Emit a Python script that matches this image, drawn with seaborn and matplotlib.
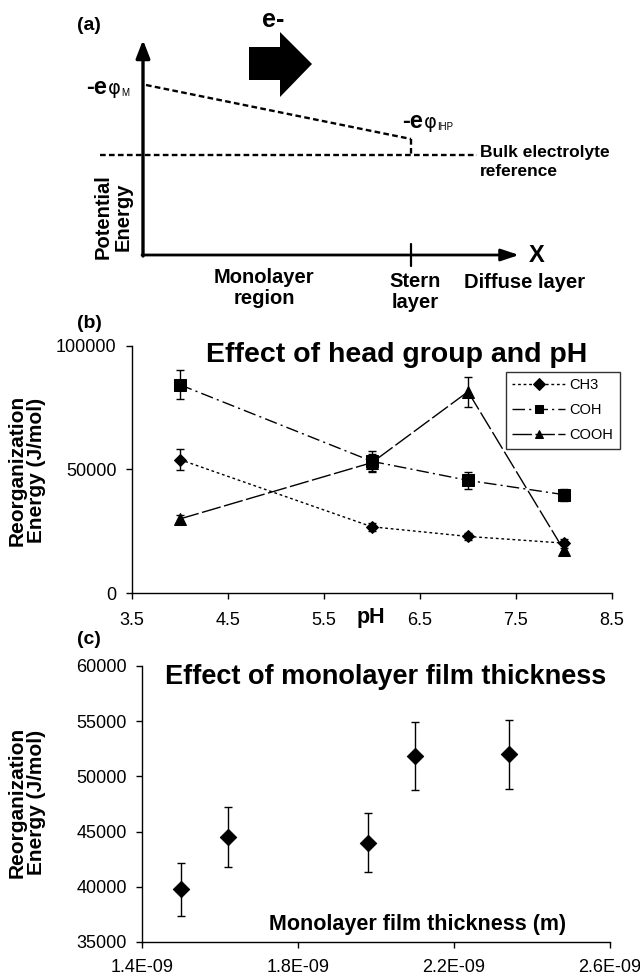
import matplotlib
matplotlib.use("Agg")
import matplotlib.pyplot as plt
import seaborn as sns
import pandas as pd
import numpy as np

# ---------------- data ----------------
ph = [4, 6, 7, 8]
ch3 = [54000, 26800, 22900, 20200]
ch3_err = [4200, 1500, 1500, 1800]
coh = [84300, 53300, 45600, 39800]
coh_err = [5800, 4300, 3300, 2500]
cooh = [30000, 52800, 81500, 17300]
cooh_err = [1500, 3500, 6000, 2000]
series_names = ["CH3", "COH", "COOH"]

thickness = [1.50e-9, 1.62e-9, 1.98e-9, 2.10e-9, 2.34e-9]
energy = [39800, 44500, 44000, 51850, 52000]
energy_err = [2400, 2700, 2650, 3100, 3100]

ph_ticks = [3.5, 4.5, 5.5, 6.5, 7.5, 8.5]
b_yticks = [0, 50000, 100000]
c_xticks = [1.4e-9, 1.8e-9, 2.2e-9, 2.6e-9]
c_xticklabels = ["1.4E-09", "1.8E-09", "2.2E-09", "2.6E-09"]
c_yticks = [35000, 40000, 45000, 50000, 55000, 60000]

sns.set_theme(style="ticks")
plt.rcParams["font.family"] = ["Liberation Sans", "DejaVu Sans"]
for k in ["text.color", "axes.labelcolor", "axes.edgecolor",
          "xtick.color", "ytick.color"]:
    plt.rcParams[k] = "black"

W, H = 640, 975
fig = plt.figure(figsize=(W / 100, H / 100), dpi=100)
fig.patch.set_facecolor("white")
renderer = fig.canvas.get_renderer()

# ---------------- panel (a): schematic ----------------
ax_a = fig.add_axes([0, 1 - 330 / H, 1, 330 / H])
ax_a.set_xlim(0, 640)
ax_a.set_ylim(330, 0)
ax_a.axis("off")

fa = dict(fontweight="bold", color="black")
ax_a.text(77, 25, "(a)", fontsize=14, ha="left", va="center", **fa)
ax_a.text(273, 20, "e-", fontsize=18, ha="center", va="center", **fa)
ax_a.fill([249, 280, 280, 312, 280, 280, 249], [47, 47, 32, 64, 97, 80, 80],
          color="black", lw=0)
ax_a.annotate("", xy=(143, 40), xytext=(143, 256),
              arrowprops=dict(arrowstyle="-|>,head_length=0.9,head_width=0.35",
                              lw=2.4, color="black", shrinkA=0, shrinkB=0))
ax_a.annotate("", xy=(519, 255), xytext=(142, 255),
              arrowprops=dict(arrowstyle="-|>,head_length=0.9,head_width=0.3",
                              lw=2.0, color="black", shrinkA=0, shrinkB=0))
ax_a.plot([411, 411], [244, 266], color="black", lw=1.6)
dash = (0, (2.4, 1.4))
ax_a.plot([146, 411], [85, 139], color="black", lw=1.7, linestyle=dash)
ax_a.plot([411, 411], [139, 155], color="black", lw=1.7, linestyle=dash)
ax_a.plot([100, 477], [155, 155], color="black", lw=1.7, linestyle=dash)


def phi_label(x, y, sub):
    """Draw '-e' (bold) + 'φ' + small subscript, starting at x (pixel coords)."""
    inv = ax_a.transData.inverted()
    t1 = ax_a.text(x, y, "-e", fontsize=17, fontweight="bold",
                   ha="left", va="center")
    bb = t1.get_window_extent(renderer)
    x1 = inv.transform((bb.x1, bb.y0))[0]
    t2 = ax_a.text(x1 + 1, y + 1, "φ", fontsize=14, family="DejaVu Sans",
                   ha="left", va="center")
    bb2 = t2.get_window_extent(renderer)
    x2 = inv.transform((bb2.x1, bb2.y0))[0]
    ax_a.text(x2 + 0.5, y + 5, sub, fontsize=7, ha="left", va="center")


phi_label(86, 88, "M")
phi_label(402, 122, "IHP")
ax_a.text(480, 153, "Bulk electrolyte", fontsize=12.5, ha="left", va="center", **fa)
ax_a.text(480, 172, "reference", fontsize=12.5, ha="left", va="center", **fa)
ax_a.text(529, 255, "X", fontsize=17, ha="left", va="center", **fa)
ax_a.text(113, 217, "Potential\nEnergy", fontsize=14.5, rotation=90,
          ha="center", va="center", linespacing=1.05, **fa)
ax_a.text(264, 288, "Monolayer\nregion", fontsize=14.5, ha="center",
          va="center", linespacing=1.1, **fa)
ax_a.text(415, 292, "Stern\nlayer", fontsize=14.5, ha="center",
          va="center", linespacing=1.1, **fa)
ax_a.text(525, 282, "Diffuse layer", fontsize=14.5, ha="center",
          va="center", **fa)

fig.text(77 / W, 1 - 324 / H, "(b)", fontsize=14, ha="left", va="center", **fa)
fig.text(77 / W, 1 - 639 / H, "(c)", fontsize=14, ha="left", va="center", **fa)

# ---------------- panel (b) ----------------
bl, br, bt, bb_ = 132, 612, 346, 593
ax_b = fig.add_axes([bl / W, 1 - bb_ / H, (br - bl) / W, (bb_ - bt) / H])
df_b = pd.DataFrame({"pH": ph * 3,
                     "E": ch3 + coh + cooh,
                     "grp": sum([[n] * len(ph) for n in series_names], [])})
styles = {
    "CH3": dict(ls=(0, (2, 2)), marker="D", ms=6),
    "COH": dict(ls=(0, (9, 3, 1.5, 3)), marker="s", ms=8),
    "COOH": dict(ls=(0, (14, 2.5)), marker="^", ms=8),
}
errs = {"CH3": ch3_err, "COH": coh_err, "COOH": cooh_err}
for name in series_names:
    sub = df_b[df_b["grp"] == name]
    st = styles[name]
    sns.lineplot(data=sub, x="pH", y="E", ax=ax_b, color="black", lw=1.0,
                 linestyle=st["ls"], marker=st["marker"], markersize=st["ms"],
                 markeredgecolor="black", markerfacecolor="black",
                 label=name, errorbar=None, sort=False)
    ax_b.errorbar(sub["pH"], sub["E"], yerr=errs[name], fmt="none",
                  ecolor="black", elinewidth=1.0, capsize=3, capthick=1.0)

ax_b.set_xlim(3.5, 8.5)
ax_b.set_ylim(0, 100000)
ax_b.set_xticks(ph_ticks)
ax_b.set_xticklabels([f"{t:.1f}" for t in ph_ticks])
ax_b.set_yticks(b_yticks)
ax_b.set_yticklabels([str(t) for t in b_yticks])
sns.despine(ax=ax_b)
ax_b.tick_params(axis="both", direction="out", length=4, width=1,
                 labelsize=13)
ax_b.tick_params(axis="x", pad=10)
ax_b.tick_params(axis="y", pad=7)
for sp in ["left", "bottom"]:
    ax_b.spines[sp].set_linewidth(1.0)
ax_b.set_xlabel("")
ax_b.set_ylabel("Reorganization\nEnergy (J/mol)", fontsize=15,
                fontweight="bold", linespacing=1.05)
ax_b.yaxis.set_label_coords(-0.179, 0.498)
ax_b.text(0.552, 0.964, "Effect of head group and pH", transform=ax_b.transAxes,
          fontsize=20.5, fontweight="bold", ha="center", va="center")
ax_b.text(0.498, -0.101, "pH", transform=ax_b.transAxes, fontsize=15.5,
          fontweight="bold", ha="center", va="center")
leg = ax_b.legend(loc="upper left", bbox_to_anchor=(0.779, 0.895),
                  frameon=True, fancybox=False, fontsize=10.5,
                  handlelength=3.6, borderpad=0.45, labelspacing=0.75,
                  handletextpad=0.3, borderaxespad=0)
leg.get_frame().set_edgecolor("black")
leg.get_frame().set_linewidth(1.0)
for h in leg.legend_handles:
    h.set_markersize(6)

# ---------------- panel (c) ----------------
cl, cr, ct, cb = 142, 610, 666, 942
ax_c = fig.add_axes([cl / W, 1 - cb / H, (cr - cl) / W, (cb - ct) / H])
df_c = pd.DataFrame({"t": thickness, "E": energy})
ax_c.errorbar(df_c["t"], df_c["E"], yerr=energy_err, fmt="none",
              ecolor="black", elinewidth=1.0, capsize=3, capthick=1.0)
sns.scatterplot(data=df_c, x="t", y="E", ax=ax_c, marker="D", s=70,
                color="black", edgecolor="black", zorder=3)
ax_c.set_xlim(1.4e-9, 2.6e-9)
ax_c.set_ylim(35000, 60000)
ax_c.set_xticks(c_xticks)
ax_c.set_xticklabels(c_xticklabels)
ax_c.set_yticks(c_yticks)
ax_c.set_yticklabels([str(t) for t in c_yticks])
sns.despine(ax=ax_c)
ax_c.tick_params(axis="both", direction="out", length=4, width=1,
                 labelsize=13)
ax_c.tick_params(axis="x", pad=8)
ax_c.tick_params(axis="y", pad=7)
for sp in ["left", "bottom"]:
    ax_c.spines[sp].set_linewidth(1.0)
ax_c.set_xlabel("")
ax_c.set_ylabel("Reorganization\nEnergy (J/mol)", fontsize=15,
                fontweight="bold", linespacing=1.05)
ax_c.yaxis.set_label_coords(-0.205, 0.504)
ax_c.text(0.521, 0.96, "Effect of monolayer film thickness",
          transform=ax_c.transAxes, fontsize=19.5, fontweight="bold",
          ha="center", va="center")
ax_c.text(0.588, 0.062, "Monolayer film thickness (m)",
          transform=ax_c.transAxes, fontsize=15.5, fontweight="bold",
          ha="center", va="center")

fig.savefig("out.png", dpi=100, facecolor="white")
